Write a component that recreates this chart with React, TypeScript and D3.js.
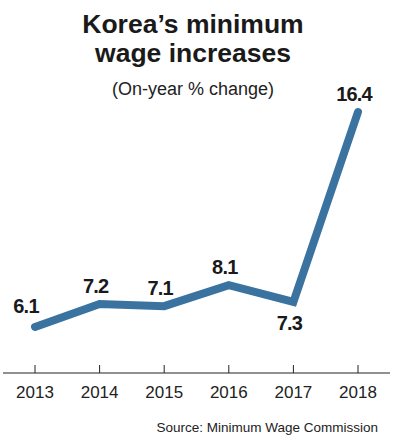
import * as React from 'react'
import * as d3 from 'd3'

const WIDTH = 394
const HEIGHT = 440

const years = ['2013', '2014', '2015', '2016', '2017', '2018']
const increases = [6.1, 7.2, 7.1, 8.1, 7.3, 16.4]
// label sits above the line except where it dips (2017)
const labelBelow = [false, false, false, false, true, false]

const LINE_COLOR = '#3b73a0'
const FONT = '"Liberation Sans", Arial, Helvetica, sans-serif'

export default function App() {
  const axisRef = React.useRef<SVGGElement>(null)

  const x = d3.scalePoint<string>().domain(years).range([35, 358])
  const y = d3.scaleLinear().domain([6.1, 16.4]).range([327, 112])

  const line = d3
    .line<number>()
    .x((d, i) => x(years[i]) as number)
    .y(d => y(d))

  React.useEffect(() => {
    const g = d3.select(axisRef.current)
    g.selectAll('*').remove()
    g.append('line')
      .attr('x1', 3)
      .attr('x2', 390)
      .attr('y1', 0)
      .attr('y2', 0)
      .attr('stroke', '#222')
      .attr('stroke-width', 1.2)
    const ticks = g
      .selectAll('g.tick')
      .data(years)
      .join('g')
      .attr('class', 'tick')
      .attr('transform', d => `translate(${x(d)},0)`)
    ticks
      .append('line')
      .attr('y1', -8)
      .attr('y2', 0)
      .attr('stroke', '#222')
      .attr('stroke-width', 1)
    ticks
      .append('text')
      .attr('y', 25)
      .attr('text-anchor', 'middle')
      .attr('font-family', FONT)
      .attr('font-size', 17)
      .attr('fill', '#222')
      .text(d => d)
  }, [])

  return (
    <svg
      width={WIDTH}
      height={HEIGHT}
      style={{ position: 'absolute', left: 0, top: 0, background: '#fff' }}
    >
      <text
        x={193}
        y={33}
        textAnchor="middle"
        fontFamily={FONT}
        fontWeight="bold"
        fontSize={26.5}
        fill="#1a1a1a"
      >
        Korea’s minimum
      </text>
      <text
        x={193}
        y={62}
        textAnchor="middle"
        fontFamily={FONT}
        fontWeight="bold"
        fontSize={26.5}
        fill="#1a1a1a"
      >
        wage increases
      </text>
      <text
        x={193}
        y={95}
        textAnchor="middle"
        fontFamily={FONT}
        fontSize={18}
        fill="#222"
      >
        (On-year % change)
      </text>

      <path
        d={line(increases) || ''}
        fill="none"
        stroke={LINE_COLOR}
        strokeWidth={8}
        strokeLinejoin="miter"
        strokeLinecap="round"
      />

      {increases.map((v, i) => (
        <text
          key={years[i]}
          x={(x(years[i]) as number) + (i === 0 ? -9 : i === 5 ? -4 : -4)}
          y={labelBelow[i] ? y(v) + 28 : y(v) - (i === 0 ? 14 : 11)}
          textAnchor="middle"
          fontFamily={FONT}
          fontWeight="bold"
          fontSize={20}
          letterSpacing={-0.8}
          fill="#1a1a1a"
        >
          {v.toFixed(1)}
        </text>
      ))}

      <g ref={axisRef} transform="translate(0,373)" />

      <text
        x={378}
        y={432}
        textAnchor="end"
        fontFamily={FONT}
        fontSize={13.5}
        fill="#222"
      >
        Source: Minimum Wage Commission
      </text>
    </svg>
  )
}
